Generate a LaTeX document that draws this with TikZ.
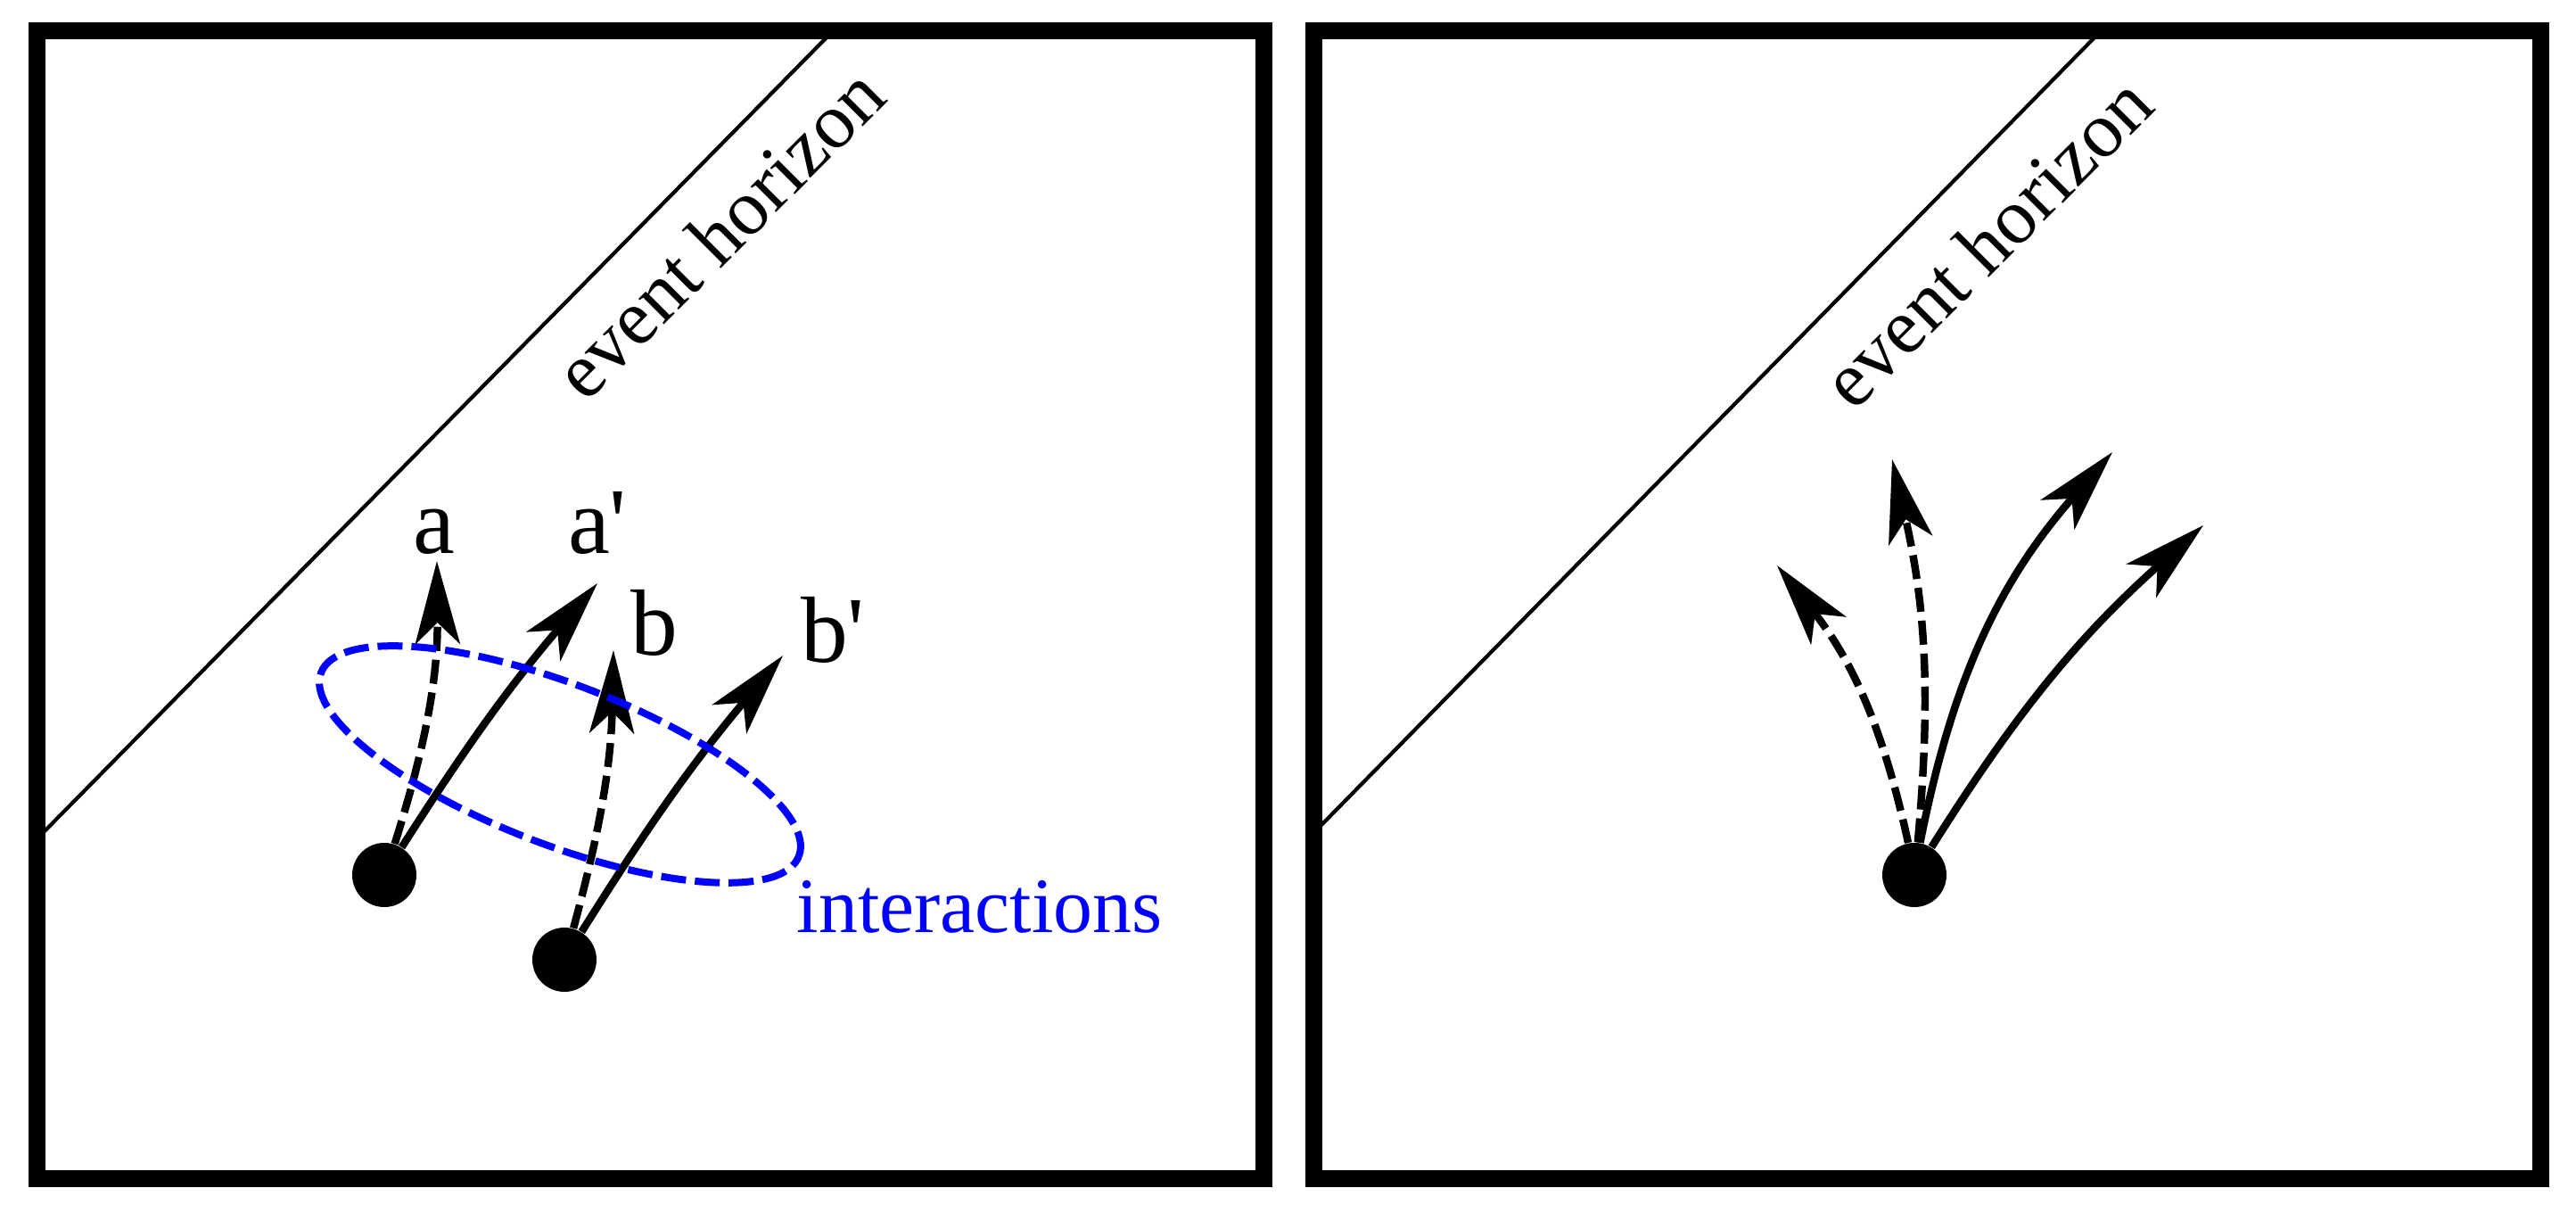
\documentclass[tikz,border=0pt]{standalone}
\usepackage{fontspec}
\setmainfont{Liberation Serif}
\usetikzlibrary{arrows.meta}

\begin{document}
\begin{tikzpicture}[
    frame/.style={line width=0.19cm},
    horizon/.style={line width=1.2pt},
    particle/.style={circle, fill=black, inner sep=0pt, minimum size=0.72cm},
    real/.style={line width=2.4pt, -{Stealth[length=9.3mm, width=5mm, inset=2.4mm]}},
    virtual/.style={real, dash pattern=on 0.27cm off 0.1cm},
    ring/.style={blue, line width=0.08cm, dash pattern=on 0.28cm off 0.1cm},
    lbl/.style={font=\fontsize{30}{36}\selectfont, inner sep=0pt, anchor=base},
    txt/.style={font=\fontsize{25}{30}\selectfont, inner sep=0pt}
]
    \useasboundingbox (0,0) rectangle (28.89,13.59);

    % Left panel: two pairs near the horizon
    \draw[horizon] (0.45,4.22) -- (9.30,13.20);
    \node[txt, rotate=45] (eh1) at (8.06,10.98) {event horizon};
    \draw[frame] (0.41,0.38) rectangle (14.175,13.245);

    \node[particle] (p1) at (4.31,3.78) {};
    \node[particle] (p2) at (6.33,2.83) {};
    \coordinate (ta) at (4.90,7.30);
    \coordinate (tap) at (6.70,7.05);
    \coordinate (tb) at (6.88,6.30);
    \coordinate (tbp) at (8.78,6.24);

    \draw[virtual] (p1) to[bend right=9] (ta);
    \draw[real] (p1) to[bend left=4] (tap);
    \draw[virtual] (p2) to[bend right=7] (tb);
    \draw[real] (p2) to[bend left=4] (tbp);

    \node[lbl] (la) at (4.87,7.38) {a};
    \node[lbl] (lap) at (6.70,7.38) {a\textquotesingle};
    \node[lbl] (lb) at (7.34,6.24) {b};
    \node[lbl] (lbp) at (9.34,6.16) {b\textquotesingle};

    % Interaction region
    \draw[ring, rotate around={-21:(6.28,5.02)}] (6.28,5.02) ellipse (2.87 and 0.9);
    \node[txt, blue, anchor=base west] (int) at (8.93,3.13) {interactions};

    % Right panel: one particle, four outgoing states
    \draw[horizon] (14.78,4.30) -- (23.52,13.20);
    \node[txt, rotate=45] (eh2) at (22.28,10.88) {event horizon};
    \draw[frame] (14.735,0.38) rectangle (28.495,13.245);

    \node[particle] (p3) at (21.47,3.78) {};
    \coordinate (t1) at (19.93,7.25);
    \coordinate (t2) at (21.22,8.44);
    \coordinate (t3) at (23.69,8.52);
    \coordinate (t4) at (24.71,7.70);

    \draw[virtual] (p3) to[bend right=13] (t1);
    \draw[virtual] (p3) to[bend right=9] (t2);
    \draw[real] (p3) to[bend left=15] (t3);
    \draw[real] (p3) to[bend left=8] (t4);
\end{tikzpicture}
\end{document}
